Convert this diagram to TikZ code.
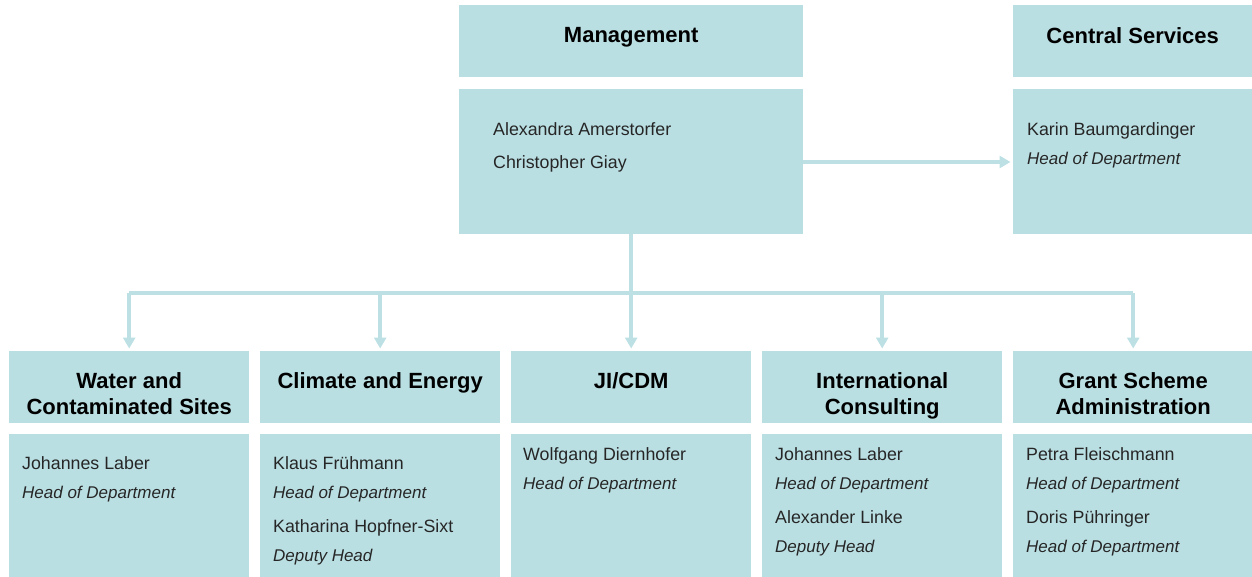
\documentclass[tikz,border=0pt]{standalone}
\usepackage{fontspec}
\setmainfont{Liberation Sans}
\usetikzlibrary{positioning,calc,arrows.meta}

\definecolor{boxblue}{RGB}{186,223,227}
\definecolor{lineblue}{RGB}{188,224,228}

\tikzset{
  head/.style={fill=boxblue,draw=none,inner sep=0pt,minimum width=240pt,minimum height=72pt,anchor=north west},
  body/.style={fill=boxblue,draw=none,inner sep=0pt,minimum width=240pt,minimum height=143pt,anchor=north west},
  headtext/.style={anchor=north,inner sep=0pt,align=center,font=\fontsize{22}{26}\selectfont\bfseries},
  bodytext/.style={anchor=north west,inner sep=0pt,align=left,font=\fontsize{17.8}{29}\selectfont,text=black!85},
  link/.style={draw=lineblue,line width=3.5pt},
  linkto/.style={link,-{Triangle[width=12pt,length=11pt]},shorten >=2.5pt}
}
\newcommand{\role}[1]{{\fontsize{17}{29}\selectfont\itshape #1}}

\begin{document}
\begin{tikzpicture}[x=1pt,y=-1pt]
  \useasboundingbox (0,0) rectangle (1252,577);
  % top row
  \node[head,minimum width=344pt] (mgmtH) at (459,5) {};
  \node[body,minimum width=344pt,minimum height=145pt] (mgmtB) at (459,89) {};
  \node[head,minimum width=239pt] (centH) at (1013,5) {};
  \node[body,minimum width=239pt,minimum height=145pt] (centB) at (1013,89) {};
  \node[headtext] (mgmtT) at ([yshift=-22.5pt]mgmtH.north) {Management};
  \node[headtext] (centT) at ([yshift=-22.5pt]centH.north) {Central Services};
  \node[bodytext] (mgmtN) at ([xshift=34pt,yshift=-33pt]mgmtB.north west)
    {Alexandra Amerstorfer\\[4pt]Christopher Giay};
  \node[bodytext] (centN) at ([xshift=14pt,yshift=-33pt]centB.north west)
    {Karin Baumgardinger\\\role{Head of Department}};
  % departments
  \foreach \D/\X/\T in {W/9/{Water and\\Contaminated Sites},
                        C/260/{Climate and Energy},
                        J/511/{JI/CDM},
                        I/762/{International\\Consulting},
                        G/1013/{Grant Scheme\\Administration}}
  {
    \node[head] (hd\D) at (\X,351) {};
    \node[body] (bd\D) at (\X,434) {};
    \node[headtext] (ht\D) at ([yshift=-21.5pt]hd\D.north) {\T};
  }
  \node[bodytext] (btW) at ([xshift=13pt,yshift=-22pt]bdW.north west)
    {Johannes Laber\\\role{Head of Department}};
  \node[bodytext] (btC) at ([xshift=13pt,yshift=-22pt]bdC.north west)
    {Klaus Frühmann\\\role{Head of Department}\\[5pt]Katharina Hopfner-Sixt\\\role{Deputy Head}};
  \node[bodytext] (btJ) at ([xshift=12pt,yshift=-13pt]bdJ.north west)
    {Wolfgang Diernhofer\\\role{Head of Department}};
  \node[bodytext] (btI) at ([xshift=13pt,yshift=-13pt]bdI.north west)
    {Johannes Laber\\\role{Head of Department}\\[5pt]Alexander Linke\\\role{Deputy Head}};
  \node[bodytext] (btG) at ([xshift=13pt,yshift=-13pt]bdG.north west)
    {Petra Fleischmann\\\role{Head of Department}\\[5pt]Doris Pühringer\\\role{Head of Department}};
  % connectors
  \coordinate (side) at ([yshift=-73pt]mgmtB.north east);
  \draw[linkto] (side) -- (centB.west |- side);
  \draw[link] (mgmtB.south) -- ++(0,58.5) coordinate (bus);
  \draw[link] (hdW.north |- bus) -- (hdG.north |- bus);
  \foreach \D in {W,C,J,I,G}
    \draw[linkto] (hd\D.north |- bus) -- (hd\D.north);
\end{tikzpicture}
\end{document}
